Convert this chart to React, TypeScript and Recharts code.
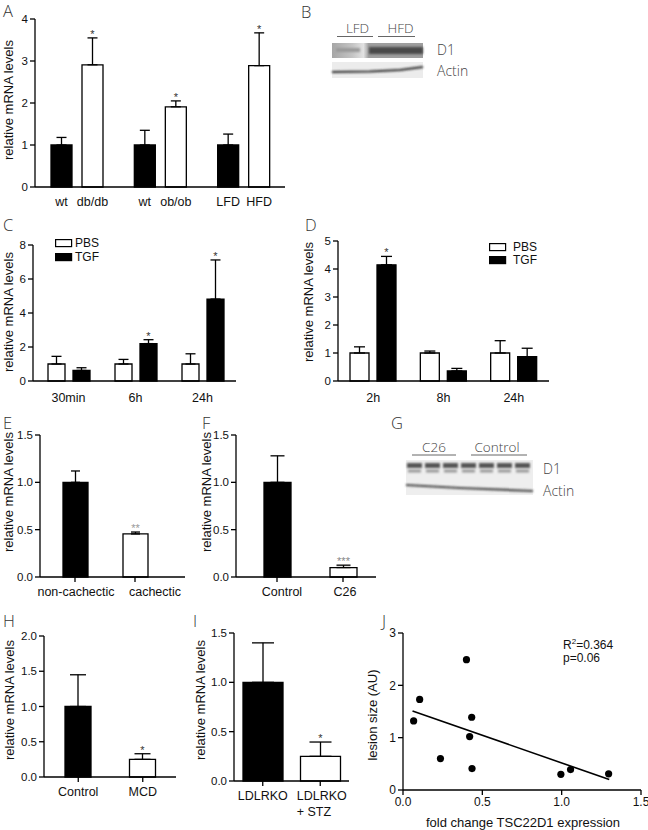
import React from 'react';
import { BarChart, Bar, XAxis, YAxis, ErrorBar, Cell, LabelList, ScatterChart, Scatter, Legend } from 'recharts';

const SANS = '"Liberation Sans", Arial, Helvetica, sans-serif';
const THIN = '"Open Sans", "Liberation Sans", sans-serif';

// ---------------- data ----------------
// Panel A
const aGroups = ['db', 'ob', 'diet'];
const aCtrlNames = ['wt', 'wt', 'LFD'];
const aTreatNames = ['db/db', 'ob/ob', 'HFD'];
const aCtrl = [1.0, 1.0, 1.0];
const aCtrlErr = [0.18, 0.35, 0.26];
const aTreat = [2.91, 1.91, 2.89];
const aTreatErr = [0.64, 0.14, 0.78];
const aTreatSig = ['*', '*', '*'];
const aNoSig = ['', '', ''];
const aTicks = [0, 1, 2, 3, 4];

// Panel C
const cTimes = ['30min', '6h', '24h'];
const cPBS = [1.0, 1.0, 1.0];
const cPBSErr = [0.45, 0.27, 0.6];
const cTGF = [0.62, 2.2, 4.82];
const cTGFErr = [0.16, 0.23, 2.3];
const cTGFSig = ['', '*', '*'];
const cTicks = [0, 2, 4, 6, 8];

// Panel D
const dTimes = ['2h', '8h', '24h'];
const dPBS = [1.0, 1.0, 1.0];
const dPBSErr = [0.22, 0.07, 0.44];
const dTGF = [4.15, 0.36, 0.87];
const dTGFErr = [0.3, 0.09, 0.3];
const dTGFSig = ['*', '', ''];
const dTicks = [0, 1, 2, 3, 4, 5];

// Panel E
const eCats = ['non-cachectic', 'cachectic'];
const eVals = [1.0, 0.455];
const eErrs = [0.12, 0.02];
const eSig = ['', '**'];
// Panel F
const fCats = ['Control', 'C26'];
const fVals = [1.0, 0.1];
const fErrs = [0.28, 0.025];
const fSig = ['', '***'];
const efTicks = [0, 0.5, 1.0, 1.5];
// Panel H
const hCats = ['Control', 'MCD'];
const hVals = [1.0, 0.25];
const hErrs = [0.45, 0.08];
const hSig = ['', '*'];
const hTicks = [0, 0.5, 1.0, 1.5, 2.0];
// Panel I
const iCats = ['LDLRKO', 'LDLRKO\n+ STZ'];
const iVals = [1.0, 0.25];
const iErrs = [0.4, 0.145];
const iSig = ['', '*'];
const iTicks = [0, 0.5, 1.0, 1.5];
// Panel J
const jFold = [0.067, 0.105, 0.236, 0.40, 0.42, 0.433, 0.435, 0.995, 1.056, 1.296];
const jLesion = [1.32, 1.73, 0.60, 2.49, 1.02, 1.39, 0.41, 0.30, 0.39, 0.31];
const jFitX = [0.06, 1.30];
const jFitY = [1.51, 0.20];
const jXTicks = [0, 0.5, 1.0, 1.5];
const jYTicks = [0, 1, 2, 3];

const twoColors = ['#000', '#fff'];

// ---------------- layout helpers ----------------
const ML = 50, MT = 15, MR = 12, MB = 45, YW = 40, XH = 35;
type Box = [number, number, number, number];
function frameOf(b: Box) {
  const [x0, y0, x1, y1] = b;
  return {
    left: x0 - ML, top: y0 - MT, width: x1 - x0 + ML + MR, height: y1 - y0 + MT + MB,
    margin: { top: MT, right: MR, left: ML - YW, bottom: MB - XH },
  };
}
const axisLine = { stroke: '#000', strokeWidth: 1.3 };
const tickLine = { stroke: '#000', strokeWidth: 1.3 };
const numTick = { fontSize: 11.5, fill: '#111', fontFamily: SANS };
const f1 = (v: number) => v.toFixed(1);
const f0 = (v: number) => String(v);

function makeStar(vals: number[], errs: number[], sigs: string[], color: string) {
  return (p: any) => {
    const vb = p.viewBox || p;
    const i = p.index;
    if (i == null || !sigs[i]) return null;
    const top = Math.min(vb.y, vb.y + vb.height);
    const h = Math.abs(vb.height);
    const ppu = h / vals[i];
    const ey = top - errs[i] * ppu;
    return (
      <text x={vb.x + vb.width / 2} y={ey} textAnchor="middle" fontFamily={SANS} fontSize={11} fill={color}>
        {sigs[i]}
      </text>
    );
  };
}

function makeName(names: string[]) {
  return (p: any) => {
    const vb = p.viewBox || p;
    const i = p.index;
    if (i == null) return null;
    const bottom = Math.max(vb.y, vb.y + vb.height);
    return (
      <text x={vb.x + vb.width / 2} y={bottom + 10} dy="0.71em" textAnchor="middle" fontFamily={SANS} fontSize={12.5} fill="#111">
        {names[i]}
      </text>
    );
  };
}

function catTick(opts: { dxs?: number[]; anchors?: string[]; dy: number; size: number; lineH?: number }) {
  return (p: any) => {
    const i = p.index ?? 0;
    const val = String(p.payload?.value ?? '');
    const lines = val.split('\n');
    const dx = opts.dxs?.[i] ?? 0;
    const anchor: any = opts.anchors?.[i] ?? 'middle';
    return (
      <text x={p.x + dx} y={p.y + opts.dy} textAnchor={anchor} fontFamily={SANS} fontSize={opts.size} fill="#111">
        {lines.map((l, k) => (
          <tspan key={k} x={p.x + dx} dy={k === 0 ? '0.71em' : opts.lineH ?? 16}>{l}</tspan>
        ))}
      </text>
    );
  };
}

function LegendBox(props: { gap: number; step: number }) {
  const { gap, step } = props;
  return (
    <svg width={70} height={32} style={{ overflow: 'visible' }}>
      <rect x={0.6} y={0.6} width={16} height={7} fill="#fff" stroke="#000" strokeWidth={1.2} />
      <text x={16 + gap} y={4} dominantBaseline="central" fontFamily={SANS} fontSize={12} fill="#111">PBS</text>
      <rect x={0.6} y={0.6 + step} width={16} height={7} fill="#000" stroke="#000" strokeWidth={1.2} />
      <text x={16 + gap} y={4 + step} dominantBaseline="central" fontFamily={SANS} fontSize={12} fill="#111">TGF</text>
    </svg>
  );
}

type SeriesDef = { key: string; errKey: string; fill: string; vals: number[]; errs: number[]; sigs: string[]; names?: string[] };

function GroupedPanel(props: {
  box: Box; rows: any[]; series: SeriesDef[]; yTicks: number[]; fmt: (v: number) => string;
  barSize: number; barGap: number; capW: number; groupTicks: boolean; padLeft?: number;
  legend?: { x: number; y: number; gap: number; step: number };
}) {
  const fr = frameOf(props.box);
  return (
    <div style={{ position: 'absolute', left: fr.left, top: fr.top }}>
      <BarChart width={fr.width} height={fr.height} margin={fr.margin} data={props.rows} barGap={props.barGap}>
        <XAxis dataKey="group" height={XH} padding={{ left: props.padLeft ?? 0, right: 0 }} axisLine={axisLine}
          tickLine={false} interval={0}
          tick={props.groupTicks ? catTick({ dy: 4, size: 12.5 }) : false} />
        <YAxis type="number" domain={[0, props.yTicks[props.yTicks.length - 1]]} ticks={props.yTicks} interval={0}
          tickFormatter={props.fmt} width={YW} axisLine={axisLine} tickLine={tickLine} tickSize={5} tick={numTick} />
        {props.series.map((s) => (
          <Bar key={s.key} dataKey={s.key} fill={s.fill} stroke="#000" strokeWidth={1.3} barSize={props.barSize} isAnimationActive={false}>
            <ErrorBar dataKey={s.errKey} width={props.capW} stroke="#000" strokeWidth={1.3} direction="y" />
            <LabelList dataKey={s.key} content={makeStar(s.vals, s.errs, s.sigs, '#333')} />
            {s.names ? <LabelList dataKey={s.key} content={makeName(s.names)} /> : null}
          </Bar>
        ))}
        {props.legend ? (
          <Legend layout="vertical" align="center" verticalAlign="middle"
            wrapperStyle={{ left: props.legend.x - fr.left, top: props.legend.y - fr.top, width: 70, height: 32 }}
            content={() => <LegendBox gap={props.legend!.gap} step={props.legend!.step} />} />
        ) : null}
      </BarChart>
    </div>
  );
}

function PairPanel(props: {
  box: Box; cats: string[]; vals: number[]; errs: number[]; sigs: string[]; yTicks: number[];
  barSize: number; capW: number; pad: { left: number; right: number }; sigColor: string;
  dxs?: number[]; anchors?: string[];
}) {
  const fr = frameOf(props.box);
  const rows = props.cats.map((c, i) => ({ cat: c, v: props.vals[i], e: [0, props.errs[i]] }));
  return (
    <div style={{ position: 'absolute', left: fr.left, top: fr.top }}>
      <BarChart width={fr.width} height={fr.height} margin={fr.margin} data={rows}>
        <XAxis dataKey="cat" height={XH} padding={props.pad} axisLine={axisLine} tickLine={tickLine} tickSize={5}
          interval={0} tick={catTick({ dxs: props.dxs, anchors: props.anchors, dy: 3, size: 12.5, lineH: 16.5 })} />
        <YAxis type="number" domain={[0, props.yTicks[props.yTicks.length - 1]]} ticks={props.yTicks} interval={0}
          tickFormatter={f1} width={YW} axisLine={axisLine} tickLine={tickLine} tickSize={5} tick={numTick} />
        <Bar dataKey="v" stroke="#000" strokeWidth={1.3} barSize={props.barSize} isAnimationActive={false}>
          {rows.map((r, i) => <Cell key={i} fill={twoColors[i]} />)}
          <ErrorBar dataKey="e" width={props.capW} stroke="#000" strokeWidth={1.3} direction="y" />
          <LabelList dataKey="v" content={makeStar(props.vals, props.errs, props.sigs, props.sigColor)} />
        </Bar>
      </BarChart>
    </div>
  );
}

function ScatterPanel() {
  const fr = frameOf([403, 633, 641, 790]);
  const pts = jFold.map((x, i) => ({ x, y: jLesion[i] }));
  const fit = jFitX.map((x, i) => ({ x, y: jFitY[i] }));
  return (
    <div style={{ position: 'absolute', left: fr.left, top: fr.top }}>
      <ScatterChart width={fr.width} height={fr.height} margin={fr.margin}>
        <XAxis type="number" dataKey="x" domain={[0, 1.5]} ticks={jXTicks} interval={0} tickFormatter={f1} height={XH}
          axisLine={axisLine} tickLine={tickLine} tickSize={5} tick={{ ...numTick, fontSize: 12 }} />
        <YAxis type="number" dataKey="y" domain={[0, 3]} ticks={jYTicks} interval={0} tickFormatter={f0} width={YW}
          axisLine={axisLine} tickLine={tickLine} tickSize={5} tick={{ ...numTick, fontSize: 12 }} />
        <Scatter data={fit} line={{ stroke: '#000', strokeWidth: 1.6 }} shape={() => <g />} isAnimationActive={false} />
        <Scatter data={pts} isAnimationActive={false}
          shape={(p: any) => <circle cx={p.cx} cy={p.cy} r={3.6} fill="#000" />} />
      </ScatterChart>
    </div>
  );
}

function Overlay() {
  const letter = { fontFamily: THIN, fontWeight: 300, fontSize: 16.5, fill: '#333' } as any;
  const blotTxt = { fontFamily: THIN, fontWeight: 300, fontSize: 13.5, fill: '#444' } as any;
  const title = { fontFamily: SANS, fontSize: 13, fill: '#111', textAnchor: 'middle', dominantBaseline: 'central' } as any;
  const vt = (cx: number, cy: number, t: string) => (
    <text transform={`translate(${cx},${cy}) rotate(-90)`} {...title}>{t}</text>
  );
  const gLanes = [407, 425, 443, 461, 479, 497, 515];
  return (
    <svg width={648} height={830} style={{ position: 'absolute', left: 0, top: 0, pointerEvents: 'none' }}>
      <defs>
        <filter id="bl" x="-20%" y="-100%" width="140%" height="300%"><feGaussianBlur stdDeviation="1.1" /></filter>
        <filter id="bl2" x="-20%" y="-100%" width="140%" height="300%"><feGaussianBlur stdDeviation="3" /></filter>
        <linearGradient id="lfd" x1="0" x2="1" y1="0" y2="0">
          <stop offset="0" stopColor="#a6a6a6" />
          <stop offset="0.55" stopColor="#c4c4c4" />
          <stop offset="0.85" stopColor="#e2e2e2" />
          <stop offset="1" stopColor="#9a9a9a" />
        </linearGradient>
      </defs>
      {/* panel letters */}
      <text x={3} y={17} {...letter}>A</text>
      <text x={301} y={18} {...letter}>B</text>
      <text x={3} y={231} {...letter}>C</text>
      <text x={305} y={231} {...letter}>D</text>
      <text x={3} y={429} {...letter}>E</text>
      <text x={202} y={429} {...letter}>F</text>
      <text x={391} y={429} {...letter}>G</text>
      <text x={3} y={627} {...letter}>H</text>
      <text x={193} y={627} {...letter}>I</text>
      <text x={382} y={627} {...letter}>J</text>
      {/* axis titles */}
      {vt(8.5, 100, 'relative mRNA levels')}
      {vt(8.5, 312, 'relative mRNA levels')}
      {vt(308, 302, 'relative mRNA levels')}
      {vt(8.5, 492, 'relative mRNA levels')}
      {vt(206, 492, 'relative mRNA levels')}
      {vt(9, 700, 'relative mRNA levels')}
      {vt(200, 700, 'relative mRNA levels')}
      {vt(372, 715, 'lesion size (AU)')}
      <text x={523} y={822} {...title}>fold change TSC22D1 expression</text>
      <text x={563} y={649} fontFamily={SANS} fontSize={12} fill="#111">R<tspan dy={-5} fontSize={8}>2</tspan><tspan dy={5}>=0.364</tspan></text>
      <text x={563} y={662} fontFamily={SANS} fontSize={12} fill="#111">p=0.06</text>
      {/* Blot B */}
      <rect x={332} y={43} width={37} height={15} fill="url(#lfd)" />
      <rect x={336} y={48} width={24} height={4} fill="#999" filter="url(#bl)" />
      <rect x={369} y={43} width={54} height={15} fill="#9e9e9e" />
      <rect x={369} y={47} width={54} height={7} fill="#4a4a4a" filter="url(#bl)" />
      <rect x={332} y={62} width={91} height={16} fill="#ececec" />
      <path d="M332 72 L370 71.5 L400 70 L423 67" stroke="#2a2a2a" strokeWidth={2} fill="none" filter="url(#bl)" />
      <text x={357.5} y={33} textAnchor="middle" {...blotTxt}>LFD</text>
      <text x={400.5} y={33} textAnchor="middle" {...blotTxt}>HFD</text>
      <line x1={337} x2={373} y1={36.5} y2={36.5} stroke="#666" strokeWidth={1} />
      <line x1={378} x2={415} y1={36.5} y2={36.5} stroke="#666" strokeWidth={1} />
      <text x={437} y={55} {...blotTxt} fontSize={14}>D1</text>
      <text x={437} y={76} {...blotTxt} fontSize={14}>Actin</text>
      {/* Blot G */}
      <rect x={406} y={460} width={127} height={35} fill="#eeeeee" />
      {gLanes.map((x, k) => (
        <rect key={k} x={x} y={463} width={15} height={5} fill="#555" filter="url(#bl)" />
      ))}
      {gLanes.map((x, k) => (
        <rect key={'b' + k} x={x + 1} y={469.5} width={13} height={3} fill="#9a9a9a" filter="url(#bl)" />
      ))}
      <path d="M406 485 L460 488 L533 491" stroke="#444" strokeWidth={2.2} fill="none" filter="url(#bl)" />
      <text x={434} y={452} textAnchor="middle" {...blotTxt}>C26</text>
      <text x={497} y={452} textAnchor="middle" {...blotTxt}>Control</text>
      <line x1={412} x2={456} y1={455} y2={455} stroke="#666" strokeWidth={1} />
      <line x1={471} x2={527} y1={455} y2={455} stroke="#666" strokeWidth={1} />
      <text x={543} y={474} {...blotTxt} fontSize={14}>D1</text>
      <text x={543} y={496} {...blotTxt} fontSize={14}>Actin</text>
    </svg>
  );
}

export default function App() {
  const aRows = aGroups.map((g, i) => ({
    group: g, ctrl: aCtrl[i], ctrlErr: [0, aCtrlErr[i]], treat: aTreat[i], treatErr: [0, aTreatErr[i]],
  }));
  const cRows = cTimes.map((g, i) => ({
    group: g, pbs: cPBS[i], pbsErr: [0, cPBSErr[i]], tgf: cTGF[i], tgfErr: [0, cTGFErr[i]],
  }));
  const dRows = dTimes.map((g, i) => ({
    group: g, pbs: dPBS[i], pbsErr: [0, dPBSErr[i]], tgf: dTGF[i], tgfErr: [0, dTGFErr[i]],
  }));
  return (
    <div style={{ position: 'absolute', left: 0, top: 0, width: 648, height: 830, background: '#fff', overflow: 'hidden', fontFamily: SANS }}>
      <GroupedPanel box={[35, 19, 285, 187]} rows={aRows} yTicks={aTicks} fmt={f0} barSize={21} barGap={10} capW={5}
        groupTicks={false}
        series={[
          { key: 'ctrl', errKey: 'ctrlErr', fill: '#000', vals: aCtrl, errs: aCtrlErr, sigs: aNoSig, names: aCtrlNames },
          { key: 'treat', errKey: 'treatErr', fill: '#fff', vals: aTreat, errs: aTreatErr, sigs: aTreatSig, names: aTreatNames },
        ]} />
      <GroupedPanel box={[33, 245, 236, 381]} rows={cRows} yTicks={cTicks} fmt={f0} barSize={17} barGap={8} capW={5}
        groupTicks={true} padLeft={2} legend={{ x: 55, y: 239, gap: 4, step: 14 }}
        series={[
          { key: 'pbs', errKey: 'pbsErr', fill: '#fff', vals: cPBS, errs: cPBSErr, sigs: ['', '', ''] },
          { key: 'tgf', errKey: 'tgfErr', fill: '#000', vals: cTGF, errs: cTGFErr, sigs: cTGFSig },
        ]} />
      <GroupedPanel box={[338, 241, 549, 381]} rows={dRows} yTicks={dTicks} fmt={f0} barSize={19} barGap={8} capW={5.5}
        groupTicks={true} legend={{ x: 489, y: 243, gap: 8, step: 13 }}
        series={[
          { key: 'pbs', errKey: 'pbsErr', fill: '#fff', vals: dPBS, errs: dPBSErr, sigs: ['', '', ''] },
          { key: 'tgf', errKey: 'tgfErr', fill: '#000', vals: dTGF, errs: dTGFErr, sigs: dTGFSig },
        ]} />
      <PairPanel box={[40, 435, 185, 577]} cats={eCats} vals={eVals} errs={eErrs} sigs={eSig} yTicks={efTicks}
        barSize={25} capW={4.5} pad={{ left: 5, right: 20 }} sigColor="#999" dxs={[1, 20]} />
      <PairPanel box={[236, 435, 376, 577]} cats={fCats} vals={fVals} errs={fErrs} sigs={fSig} yTicks={efTicks}
        barSize={27} capW={7} pad={{ left: 8, right: 0 }} sigColor="#888" dxs={[5, 2]} />
      <PairPanel box={[44, 636, 176, 777]} cats={hCats} vals={hVals} errs={hErrs} sigs={hSig} yTicks={hTicks}
        barSize={26} capW={8} pad={{ left: 2, right: 1 }} sigColor="#333" />
      <PairPanel box={[234, 633, 349, 781]} cats={iCats} vals={iVals} errs={iErrs} sigs={iSig} yTicks={iTicks}
        barSize={40} capW={11} pad={{ left: 0, right: 0 }} sigColor="#333" dxs={[0, -23.5]} anchors={['middle', 'start']} />
      <ScatterPanel />
      <Overlay />
    </div>
  );
}
